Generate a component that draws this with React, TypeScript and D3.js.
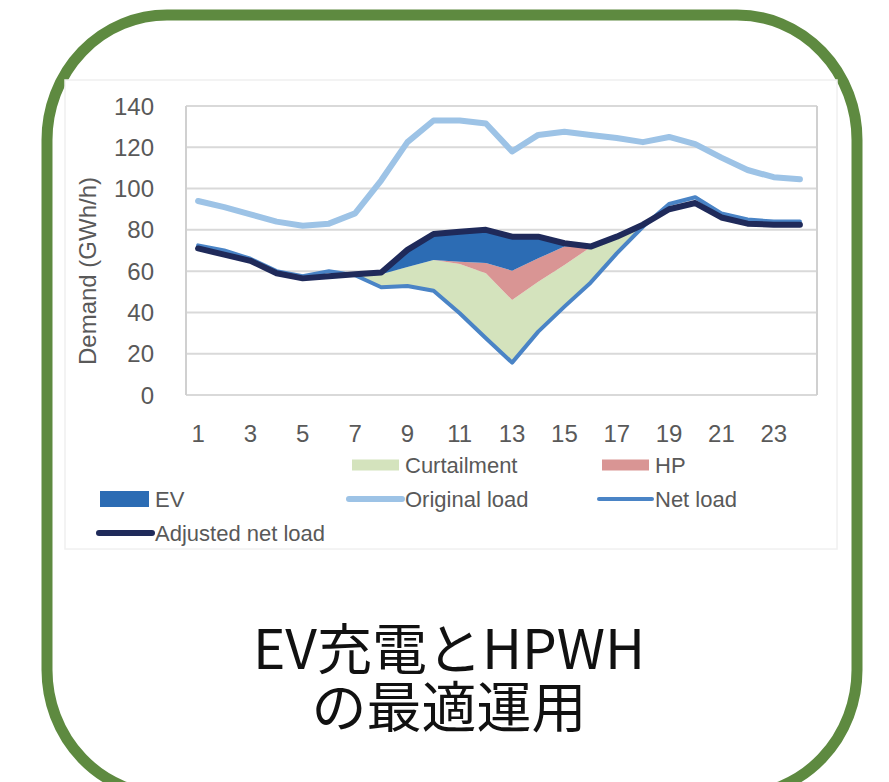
import { scaleBand, scaleLinear, line, area, stack } from "d3";

const hours = Array.from({ length: 24 }, (_, i) => String(i + 1));
const xTickLabels = ["1", "3", "5", "7", "9", "11", "13", "15", "17", "19", "21", "23"];
const yTicks = [0, 20, 40, 60, 80, 100, 120, 140];

const originalLoad = [94, 91, 87.5, 84, 82, 83, 88, 104, 122.5, 133, 133, 131.5, 118, 126, 127.5, 126, 124.5, 122.5, 125, 121.5, 115, 109, 105.5, 104.5];
const netLoad = [72.5, 70, 66, 60, 57.5, 60, 58, 52.2, 52.8, 50.5, 39.6, 27.5, 15.7, 30.7, 42.8, 54.4, 68.6, 81.5, 92.5, 95.8, 88, 85, 84, 84];
const adjustedNetLoad = [71, 68, 65, 59, 56.5, 57.5, 58.5, 59.3, 70.3, 78, 79.1, 80, 76.7, 76.7, 73.5, 71.9, 76.7, 82.5, 90, 93, 86, 83, 82.5, 82.5];
const curtailment = [0, 0, 0, 0, 0, 0, 0, 6.3, 9.2, 14.9, 23.9, 31.5, 30.3, 24.2, 20.2, 17.2, 8.1, 1, 0, 0, 0, 0, 0, 0];
const hp = [0, 0, 0, 0, 0, 0, 0, 0, 0, 0, 1.1, 5, 14.2, 11.3, 8.9, 0.3, 0, 0, 0, 0, 0, 0, 0, 0];
const ev = [0, 0, 0, 0, 0, 0, 0, 0.8, 8.3, 12.6, 14.5, 16, 16.5, 10.5, 1.6, 0, 0, 0, 0, 0, 0, 0, 0, 0];

const titleLines = ["EV充電とHPWH", "の最適運用"];

const colors = {
  curtailment: "#d4e3bd",
  hp: "#d99594",
  ev: "#2c6cb4",
  original: "#9dc3e6",
  net: "#4a84c6",
  adjusted: "#1f2a5a"
};

type LegendItem = { label: string; kind: "area" | "line" | "big"; color: string; width?: number } | null;

// first slot is the hidden base series of the stacked areas
const legendItems: LegendItem[] = [
  null,
  { label: "Curtailment", kind: "area", color: colors.curtailment },
  { label: "HP", kind: "area", color: colors.hp },
  { label: "EV", kind: "big", color: colors.ev },
  { label: "Original load", kind: "line", color: colors.original, width: 6 },
  { label: "Net load", kind: "line", color: colors.net, width: 4 },
  { label: "Adjusted net load", kind: "line", color: colors.adjusted, width: 6 }
];

const tickFont = "'Liberation Sans', Arial, sans-serif";

export default function App() {
  const width = 889;
  const height = 782;
  const plot = { left: 186, right: 817, top: 106, bottom: 395 };

  const x = scaleBand<string>().domain(hours).range([185, 813]);
  const cx = (i: number) => (x(hours[i]) ?? 0) + x.bandwidth() / 2;
  const y = scaleLinear().domain([0, 140]).range([plot.bottom, plot.top]);

  const rows = hours.map((h, i) => ({ hour: h, curtailment: curtailment[i], hp: hp[i], ev: ev[i] }));
  const stacked = stack<(typeof rows)[number]>().keys(["curtailment", "hp", "ev"])(rows);

  const areaGen = area<[number, number]>()
    .x((_, i) => cx(i))
    .y0((d, i) => y(netLoad[i] + d[0]))
    .y1((d, i) => y(netLoad[i] + d[1]));

  const lineGen = line<number>()
    .x((_, i) => cx(i))
    .y((d) => y(d));

  const areaColors = [colors.curtailment, colors.hp, colors.ev];

  return (
    <svg
      width={width}
      height={height}
      viewBox={`0 0 ${width} ${height}`}
      style={{ position: "absolute", left: 0, top: 0, background: "#fff" }}
    >
      {/* green rounded frame */}
      <rect x={47} y={15} width={810} height={780} rx={120} ry={125} fill="#fff" stroke="#5e8a40" strokeWidth={11} />

      {/* chart panel */}
      <rect x={65} y={80} width={772} height={469} fill="#fff" stroke="#f0f0f0" strokeWidth={1.5} />

      {/* gridlines */}
      {yTicks.map((t) => (
        <g key={t}>
          <line x1={plot.left} x2={plot.right} y1={y(t)} y2={y(t)} stroke="#d9d9d9" strokeWidth={2} />
          <text
            x={154}
            y={y(t) + 8.5}
            textAnchor="end"
            fontFamily={tickFont}
            fontSize={24}
            fill="#595959"
          >
            {t}
          </text>
        </g>
      ))}
      <line x1={plot.left} x2={plot.left} y1={plot.top} y2={plot.bottom} stroke="#d0d0d0" strokeWidth={2} />
      <line x1={plot.right} x2={plot.right} y1={plot.top} y2={plot.bottom} stroke="#d0d0d0" strokeWidth={2} />

      <text
        transform={`translate(96, 271) rotate(-90)`}
        textAnchor="middle"
        fontFamily={tickFont}
        fontSize={24}
        fill="#595959"
      >
        Demand (GWh/h)
      </text>

      {xTickLabels.map((label) => (
        <text
          key={label}
          x={(x(label) ?? 0) + x.bandwidth() / 2}
          y={442}
          textAnchor="middle"
          fontFamily={tickFont}
          fontSize={24}
          fill="#595959"
        >
          {label}
        </text>
      ))}

      {/* stacked areas on top of net load */}
      {stacked.map((s, k) => (
        <path key={s.key} d={areaGen(s as unknown as [number, number][]) ?? ""} fill={areaColors[k]} />
      ))}

      <path d={lineGen(originalLoad) ?? ""} fill="none" stroke={colors.original} strokeWidth={6} strokeLinejoin="round" strokeLinecap="round" />
      <path d={lineGen(netLoad) ?? ""} fill="none" stroke={colors.net} strokeWidth={4} strokeLinejoin="round" strokeLinecap="round" />
      <path d={lineGen(adjustedNetLoad) ?? ""} fill="none" stroke={colors.adjusted} strokeWidth={6} strokeLinejoin="round" strokeLinecap="round" />

      {/* legend, 3 columns */}
      {legendItems.map((item, i) => {
        if (!item) return null;
        const col = i % 3;
        const row = Math.floor(i / 3);
        const lx = 100 + col * 250;
        const ly = 465 + row * 34;
        return (
          <g key={item.label}>
            {item.kind === "area" && <rect x={lx + 2} y={ly - 5.5} width={47} height={11} fill={item.color} />}
            {item.kind === "big" && <rect x={lx} y={ly - 8} width={49} height={16} fill={item.color} />}
            {item.kind === "line" && (
              <line x1={lx - 1} x2={lx + 52} y1={ly} y2={ly} stroke={item.color} strokeWidth={item.width} strokeLinecap="round" />
            )}
            <text x={lx + 55} y={ly + 8} fontFamily={tickFont} fontSize={22} fill="#595959">
              {item.label}
            </text>
          </g>
        );
      })}

      <text
        textAnchor="middle"
        fontFamily="'Noto Sans CJK JP', sans-serif"
        fontSize={55}
        fill="#111"
      >
        {titleLines.map((t, i) => (
          <tspan key={t} x={449} y={669 + i * 58}>
            {t}
          </tspan>
        ))}
      </text>
    </svg>
  );
}
